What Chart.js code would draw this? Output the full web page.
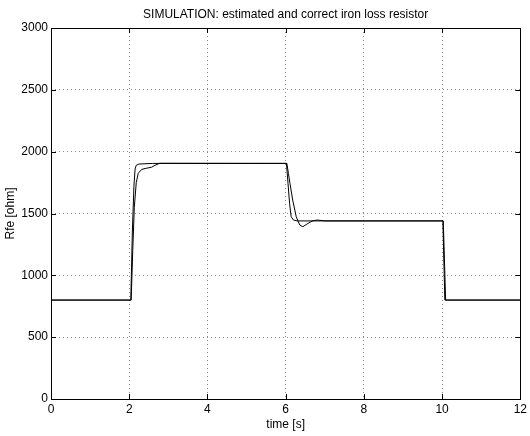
<!DOCTYPE html>
<html>
<head>
<meta charset="utf-8">
<script src="https://cdn.jsdelivr.net/npm/chart.js@4.4.1/dist/chart.umd.min.js"></script>
<style>
html,body{margin:0;padding:0;background:#fff;}
#wrap{width:530px;height:436px;position:relative;}
</style>
</head>
<body>
<div id="wrap"><canvas id="c"></canvas></div>
<script>
// Data
const chartTitle = 'SIMULATION: estimated and correct iron loss resistor';
const xTitle = 'time [s]';
const yTitle = 'Rfe [ohm]';
const xTickValues = [0, 2, 4, 6, 8, 10, 12];
const yTickValues = [0, 500, 1000, 1500, 2000, 2500, 3000];

// "correct" resistor (fast transitions)
const correctTime = [0, 2.04, 2.08, 2.12, 2.15, 2.18, 2.25, 2.6, 6.02, 6.06, 6.10, 6.14, 6.20, 6.30, 10.02, 10.07, 12];
const correctRfe  = [800, 800, 1350, 1720, 1860, 1890, 1900, 1905, 1905, 1744, 1582, 1474, 1447, 1440, 1440, 800, 800];

// "estimated" resistor (observer dynamics)
const estTime = [0, 2.05, 2.09, 2.13, 2.18, 2.23, 2.32, 2.44, 2.57, 2.66, 2.78, 6.03, 6.07, 6.11, 6.18, 6.27, 6.36, 6.44, 6.57, 6.70, 6.82, 7.0, 10.03, 10.09, 12];
const estRfe  = [800, 800, 1200, 1550, 1750, 1825, 1857, 1866, 1874, 1890, 1906, 1905, 1825, 1744, 1609, 1474, 1407, 1393, 1420, 1442, 1447, 1440, 1440, 800, 800];

const toPts = (xs, ys) => xs.map((x, i) => ({x: x, y: ys[i]}));
const FONT = 'Liberation Sans, Arial, Helvetica, sans-serif';

const framePlugin = {
  id: 'frame',
  afterDraw(chart) {
    const {ctx, chartArea: a, scales} = chart;
    ctx.save();
    ctx.strokeStyle = '#000';
    ctx.lineWidth = 1;
    ctx.strokeRect(Math.round(a.left) + 0.5, Math.round(a.top) + 0.5, Math.round(a.right - a.left), Math.round(a.bottom - a.top));
    // inward tick marks on all four sides
    const tl = 5;
    ctx.beginPath();
    scales.x.ticks.forEach(t => {
      const px = Math.round(scales.x.getPixelForValue(t.value)) + 0.5;
      ctx.moveTo(px, a.bottom); ctx.lineTo(px, a.bottom - tl);
      ctx.moveTo(px, a.top); ctx.lineTo(px, a.top + tl);
    });
    scales.y.ticks.forEach(t => {
      const py = Math.round(scales.y.getPixelForValue(t.value)) + 0.5;
      ctx.moveTo(a.left, py); ctx.lineTo(a.left + tl, py);
      ctx.moveTo(a.right, py); ctx.lineTo(a.right - tl, py);
    });
    ctx.stroke();
    // title centred over the plot area
    ctx.fillStyle = '#000';
    ctx.font = '12px ' + FONT;
    ctx.textAlign = 'center';
    ctx.textBaseline = 'alphabetic';
    ctx.fillText(chartTitle, (a.left + a.right) / 2, 18);
    ctx.restore();
  }
};

new Chart(document.getElementById('c'), {
  type: 'line',
  data: {
    datasets: [
      {label: 'correct', data: toPts(correctTime, correctRfe), borderColor: '#000', borderWidth: 1, pointRadius: 0, tension: 0, fill: false},
      {label: 'estimated', data: toPts(estTime, estRfe), borderColor: '#000', borderWidth: 1, pointRadius: 0, tension: 0, fill: false}
    ]
  },
  options: {
    responsive: true,
    maintainAspectRatio: false,
    animation: false,
    devicePixelRatio: 1,
    layout: {padding: {left: 0, right: 8, top: 28, bottom: 0}},
    plugins: {legend: {display: false}, title: {display: false}, tooltip: {enabled: false}},
    scales: {
      x: {
        type: 'linear', min: 0, max: 12,
        afterBuildTicks(s) { s.ticks = xTickValues.map(v => ({value: v})); },
        afterFit(s) { s.height = 37; },
        ticks: {color: '#000', font: {family: FONT, size: 12}, padding: 3, maxRotation: 0, callback: v => String(v)},
        grid: {color: '#8a8a8a', lineWidth: 1, drawTicks: false},
        border: {display: false, dash: [1, 3]},
        title: {display: true, text: xTitle, color: '#000', font: {family: FONT, size: 12}, padding: {top: 1, bottom: 4}}
      },
      y: {
        type: 'linear', min: 0, max: 3000,
        afterBuildTicks(s) { s.ticks = yTickValues.map(v => ({value: v})); },
        afterFit(s) { s.width = 51; },
        ticks: {color: '#000', font: {family: FONT, size: 12}, padding: 3, callback: v => String(v)},
        grid: {color: '#8a8a8a', lineWidth: 1, drawTicks: false},
        border: {display: false, dash: [1, 3]},
        title: {display: true, text: yTitle, color: '#000', font: {family: FONT, size: 12}, padding: {top: 3, bottom: 0}}
      }
    }
  },
  plugins: [framePlugin]
});
</script>
</body>
</html>
